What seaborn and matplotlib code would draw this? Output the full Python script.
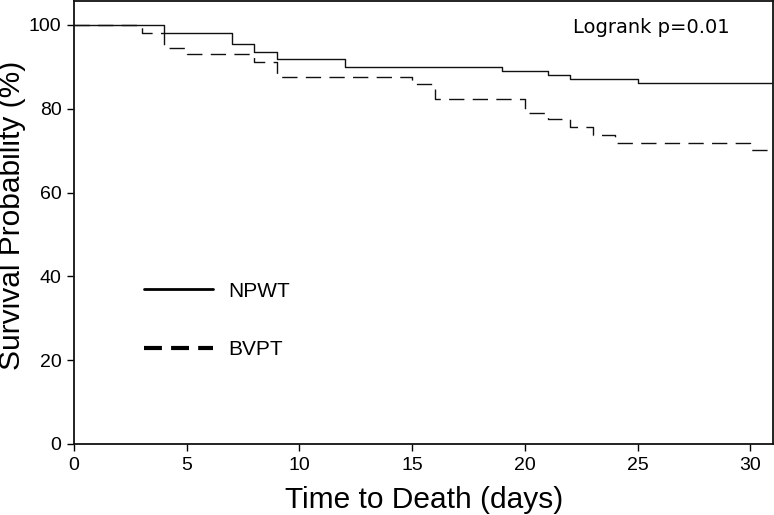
import numpy as np
import pandas as pd
import seaborn as sns
import matplotlib
matplotlib.use("Agg")
import matplotlib.pyplot as plt

# step points (day, survival %)
npwt_days = [0, 4, 7, 8, 9, 12, 19, 21, 22, 25, 31]
npwt_surv = [100, 98.1, 95.4, 93.6, 91.8, 90.0, 89.1, 88.0, 87.2, 86.2, 86.2]
bvpt_days = [0, 3, 4, 5, 8, 9, 15, 16, 20, 21, 22, 23, 24, 30, 31]
bvpt_surv = [100, 98.1, 94.6, 93.0, 91.2, 87.6, 85.8, 82.4, 78.9, 77.5, 75.6, 73.7, 71.9, 70.2, 70.2]

x_ticks = [0, 5, 10, 15, 20, 25, 30]
y_ticks = [0, 20, 40, 60, 80, 100]

df = pd.concat([
    pd.DataFrame({'day': npwt_days, 'surv': npwt_surv, 'group': 'NPWT'}),
    pd.DataFrame({'day': bvpt_days, 'surv': bvpt_surv, 'group': 'BVPT'}),
])

sns.set_style('ticks')
plt.rcParams['font.family'] = ['Liberation Sans', 'DejaVu Sans']
plt.rcParams['text.color'] = 'black'
plt.rcParams['axes.labelcolor'] = 'black'

fig = plt.figure(figsize=(7.74, 5.15), dpi=100)
ax = fig.add_axes([74/774, 1-444/515, 699/774, 443/515])

sns.lineplot(data=df, x='day', y='surv', hue='group', style='group',
             palette={'NPWT': '#111111', 'BVPT': '#111111'},
             dashes={'NPWT': '', 'BVPT': (11, 6)},
             drawstyle='steps-post', linewidth=1.0, legend=False, ax=ax,
             estimator=None, sort=False)

ax.set_xlim(0, 31)
ax.set_ylim(0, 105.7)
ax.set_xticks(x_ticks)
ax.set_yticks(y_ticks)
ax.tick_params(labelsize=14, length=5, width=1, pad=4, direction='out',
               color='black', labelcolor='black')
for s in ax.spines.values():
    s.set_linewidth(1.3)
    s.set_color('#111111')

ax.set_xlabel('Time to Death (days)', fontsize=21.5)
ax.set_ylabel('Survival Probability (%)', fontsize=21.5)
ax.xaxis.set_label_coords(0.5007, -0.095)
ax.yaxis.set_label_coords(-0.068, 0.515)

ax.text(29.08, 98.0, 'Logrank p=0.01', ha='right', va='baseline',
        fontsize=14, family='DejaVu Sans')

# legend drawn by hand as in the original
ax.plot([3.11, 6.17], [36.9, 36.9], color='black', linewidth=2)
ax.plot([3.11, 6.17], [23.0, 23.0], color='black', linewidth=3, dashes=(4.3, 2.2))
ax.text(6.84, 36.9, 'NPWT', va='center_baseline', fontsize=15)
ax.text(6.84, 23.0, 'BVPT', va='center_baseline', fontsize=15)

fig.savefig('out.png', dpi=100)
